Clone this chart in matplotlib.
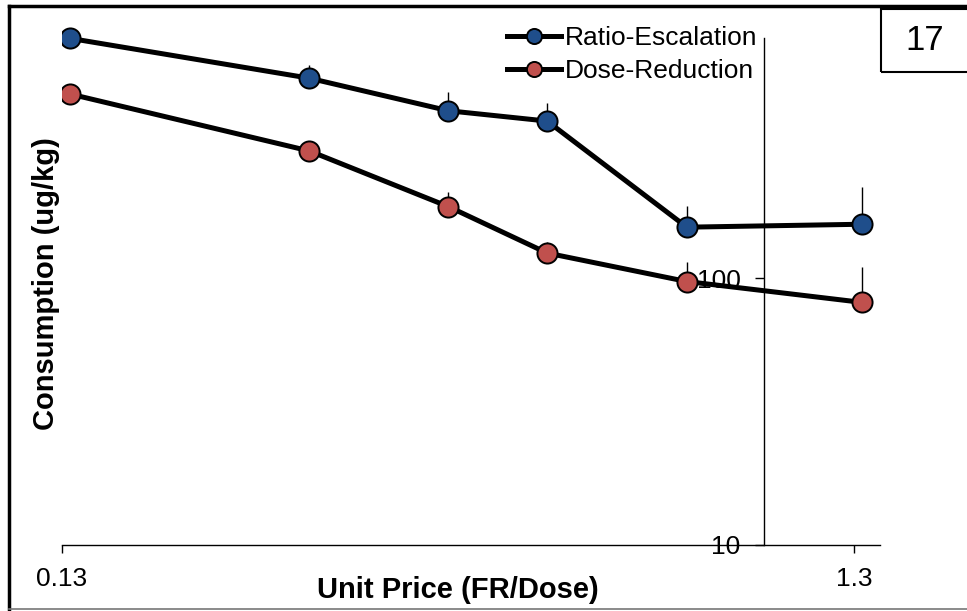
import matplotlib
matplotlib.use('Agg')
import numpy as np
import matplotlib.pyplot as plt
from matplotlib.lines import Line2D
from matplotlib.patches import Rectangle

plt.rcParams['font.family'] = ['Liberation Sans', 'DejaVu Sans']

# ---- dados ----
unit_price = [0.133, 0.267, 0.4, 0.533, 0.8, 1.333]
ratio_esc = [790, 560, 423, 387, 155, 159]
ratio_esc_top = [800, 628, 499, 451, 186, 219]
dose_red = [489, 299, 185, 124, 97, 81]
dose_red_top = [495, 326, 210, 136, 115, 110]
series_names = ['Ratio-Escalation', 'Dose-Reduction']
x_ticks = [0.13, 1.3]
x_tick_labels = ['0.13', '1.3']
y_ticks = [10, 100]
y_tick_labels = ['10', '100']
panel_label = '17'

W, H = 967, 611
fig = plt.figure(figsize=(W / 100, H / 100), dpi=100)
ax = fig.add_axes([62 / W, 1 - 545 / H, 818 / W, 534 / H])
ax.set_xscale('log')
ax.set_yscale('log')
ax.set_xlim(0.13, 1.403)
ax.set_ylim(10, 1000)

colors = ['#1F4E8B', '#C0504D']
for y, ytop, c, name in zip([ratio_esc, dose_red], [ratio_esc_top, dose_red_top], colors, series_names):
    y = np.array(y, dtype=float)
    upper = np.array(ytop, dtype=float) - y
    ax.errorbar(unit_price, y, yerr=[np.zeros_like(y), upper], fmt='none',
                ecolor='black', elinewidth=1, capsize=0, zorder=2)
    ax.plot(unit_price, y, color='black', lw=3.6, marker='o', ms=14.5,
            mfc=c, mec='black', mew=1.4, label=name, zorder=3)

# eixos: y cruza em x=1
for s in ['top', 'right']:
    ax.spines[s].set_visible(False)
ax.spines['left'].set_position(('data', 1.0))
ax.spines['left'].set_bounds(10, 790)
ax.spines['left'].set_linewidth(1)
ax.spines['bottom'].set_linewidth(1)

ax.set_xticks(x_ticks)
ax.set_xticklabels(x_tick_labels)
ax.xaxis.set_minor_locator(matplotlib.ticker.NullLocator())
ax.set_yticks(y_ticks)
ax.set_yticklabels(y_tick_labels)
ax.yaxis.set_minor_locator(matplotlib.ticker.NullLocator())
ax.tick_params(axis='x', direction='out', length=6, width=1, labelsize=19, pad=9.5)
ax.tick_params(axis='y', direction='out', length=6.5, width=1, labelsize=19, pad=10)
ax.patch.set_visible(False)

ax.set_xlabel('Unit Price (FR/Dose)', fontsize=21, fontweight='bold', va='center')
ax.xaxis.set_label_coords((458 - 62) / 818, (545 - 590) / 534)
ax.set_ylabel('Consumption (ug/kg)', fontsize=21, fontweight='bold', va='center')
ax.yaxis.set_label_coords((46 - 62) / 818, 0.5 - (284 - 278) / 534)

leg = ax.legend(loc='upper left', bbox_to_anchor=(507 / W, 1 - 26 / H),
                bbox_transform=fig.transFigure, frameon=False, fontsize=19,
                markerscale=0.75, handlelength=2.05, handletextpad=0.15,
                labelspacing=0.36, borderpad=0, borderaxespad=0)

# moldura da figura e caixa do numero
fig.add_artist(Line2D([9 / W, 9 / W], [0, 1 - 6 / H], color='black', lw=2.5, transform=fig.transFigure))
fig.add_artist(Line2D([9 / W, 1], [1 - 6 / H, 1 - 6 / H], color='black', lw=2.5, transform=fig.transFigure))
fig.add_artist(Line2D([9 / W, 1], [1 - 609 / H, 1 - 609 / H], color='#777777', lw=1.2, transform=fig.transFigure))
fig.add_artist(Rectangle((881 / W, 1 - 72 / H), 100 / W, 63 / H, fill=False,
                         edgecolor='black', lw=1.5, transform=fig.transFigure))
fig.text(925 / W, 1 - 41 / H, panel_label, fontsize=25, ha='center', va='center')

fig.savefig('out.png', dpi=100)
